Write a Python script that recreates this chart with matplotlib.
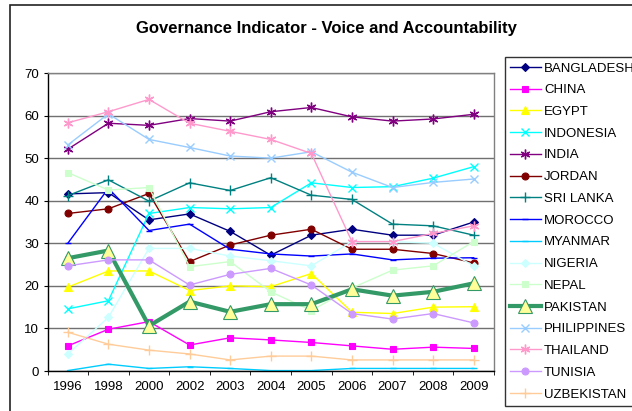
import matplotlib
matplotlib.use("Agg")
import matplotlib.pyplot as plt
from matplotlib.patches import Rectangle

plt.rcParams['font.family'] = ['Liberation Sans', 'DejaVu Sans']

years = ['1996', '1998', '2000', '2002', '2003', '2004', '2005', '2006', '2007', '2008', '2009']

bangladesh  = [41.6, 41.9, 35.5, 36.9, 32.8, 27.2, 31.9, 33.3, 31.9, 31.9, 35.0]
china       = [5.9, 9.8, 11.6, 6.1, 7.8, 7.3, 6.7, 5.9, 5.1, 5.6, 5.3]
egypt       = [19.7, 23.5, 23.5, 18.9, 20.0, 19.8, 22.9, 13.8, 13.5, 15.0, 15.1]
indonesia   = [14.6, 16.5, 37.0, 38.4, 38.1, 38.4, 44.2, 43.1, 43.3, 45.3, 48.0]
india       = [52.1, 58.2, 57.7, 59.3, 58.7, 60.9, 61.9, 59.7, 58.7, 59.2, 60.3]
jordan      = [37.0, 38.1, 41.7, 25.7, 29.6, 31.9, 33.3, 28.6, 28.6, 27.6, 25.4]
sri_lanka   = [41.2, 44.9, 39.9, 44.2, 42.4, 45.4, 41.3, 40.3, 34.5, 34.1, 31.9]
morocco     = [30.0, 42.9, 33.0, 34.5, 28.6, 27.5, 27.0, 27.5, 26.1, 26.5, 26.6]
myanmar     = [0.1, 1.6, 0.6, 1.0, 0.6, 0.1, 0.1, 0.6, 0.6, 0.6, 0.6]
nigeria     = [4.0, 12.6, 28.8, 28.8, 27.0, 25.9, 24.7, 30.4, 30.4, 30.0, 24.7]
nepal       = [46.6, 42.5, 43.1, 24.5, 25.7, 18.6, 14.2, 19.5, 23.7, 24.7, 30.4]
pakistan    = [26.5, 28.3, 10.6, 16.3, 13.9, 15.7, 15.7, 19.2, 17.7, 18.6, 20.6]
philippines = [53.1, 60.4, 54.4, 52.5, 50.5, 50.0, 51.5, 46.7, 43.1, 44.3, 45.1]
thailand    = [58.3, 60.9, 63.8, 58.2, 56.3, 54.4, 51.1, 30.4, 30.4, 32.3, 34.1]
tunisia     = [24.7, 26.1, 26.1, 20.2, 22.7, 24.1, 20.2, 13.5, 12.2, 13.5, 11.3]
uzbekistan  = [9.1, 6.3, 4.9, 4.0, 2.6, 3.5, 3.5, 2.6, 2.6, 2.6, 2.6]

star = (6, 2, 0)
# name, values, color, marker, marker size, line width, marker face
series = [
    ('BANGLADESH', bangladesh, '#000080', 'D', 4.5, 1.0, None),
    ('CHINA', china, '#FF00FF', 's', 5, 1.0, None),
    ('EGYPT', egypt, '#FFFF00', '^', 5.5, 1.0, None),
    ('INDONESIA', indonesia, '#00FFFF', 'x', 6, 1.0, None),
    ('INDIA', india, '#800080', star, 7, 1.0, None),
    ('JORDAN', jordan, '#800000', 'o', 5, 1.0, None),
    ('SRI LANKA', sri_lanka, '#008080', '+', 7, 1.0, None),
    ('MOROCCO', morocco, '#0000FF', '_', 5, 1.0, None),
    ('MYANMAR', myanmar, '#00CCFF', '_', 5, 1.0, None),
    ('NIGERIA', nigeria, '#CCFFFF', 'D', 4.5, 1.0, None),
    ('NEPAL', nepal, '#CCFFCC', 's', 5, 1.0, None),
    ('PAKISTAN', pakistan, '#339966', '^', 10, 3.0, '#FFFF99'),
    ('PHILIPPINES', philippines, '#99CCFF', 'x', 6, 1.0, None),
    ('THAILAND', thailand, '#FF99CC', star, 7, 1.0, None),
    ('TUNISIA', tunisia, '#CC99FF', 'o', 5, 1.0, None),
    ('UZBEKISTAN', uzbekistan, '#FFCC99', '+', 7, 1.0, None),
]

fig = plt.figure(figsize=(6.32, 4.11), dpi=100)
ax = fig.add_axes([47.5 / 632, 1 - 371 / 411, (494 - 47.5) / 632, (371 - 73) / 411])

x = list(range(len(years)))
for name, vals, col, mk, ms, lw, face in series:
    ax.plot(x, vals, color=col, marker=mk, markersize=ms, linewidth=lw,
            markerfacecolor=face if face else col,
            markeredgecolor=col, markeredgewidth=1.0 if mk in ('x', '+', '_', star) else 0.8,
            label=name)

ax.set_xlim(-0.5, len(years) - 0.5)
ax.set_ylim(0, 70)
ax.set_yticks(range(0, 71, 10))
ax.set_xticks(x)
ax.set_xticklabels(years)
ax.set_xticks([i - 0.5 for i in range(len(years) + 1)], minor=True)
ax.tick_params(axis='x', which='major', length=0, pad=7, labelsize=9.5)
ax.tick_params(axis='x', which='minor', length=3, direction='out', color='black')
ax.tick_params(axis='y', length=3, direction='out', pad=3, labelsize=9.5)
ax.yaxis.grid(True, color='#707070', linewidth=1.0)
ax.set_axisbelow(True)
for s in ('left', 'bottom'):
    ax.spines[s].set_color('black')
    ax.spines[s].set_linewidth(1.0)
for s in ('top', 'right'):
    ax.spines[s].set_color('#808080')
    ax.spines[s].set_linewidth(1.0)

fig.text(326 / 632, 1 - 28 / 411, 'Governance Indicator - Voice and Accountability',
         ha='center', va='center', fontsize=12, fontweight='bold')

leg = fig.legend(loc='upper left', bbox_to_anchor=(505 / 632, 1 - 57 / 411),
                 bbox_transform=fig.transFigure, fontsize=9.5, frameon=True,
                 fancybox=False, edgecolor='black', borderpad=0.4, labelspacing=0.72,
                 handlelength=2.3, handletextpad=0.25, borderaxespad=0)
leg.get_frame().set_linewidth(1.0)

fig.patches.append(Rectangle((10 / 632, -0.1), 1.2, 1 - 5 / 411 + 0.1,
                             transform=fig.transFigure, fill=False,
                             edgecolor='#222222', linewidth=1.2))

fig.savefig('out.png', dpi=100)
